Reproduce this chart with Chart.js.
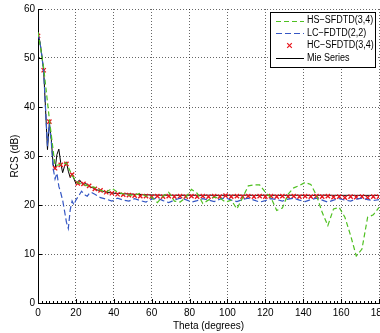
<!DOCTYPE html>
<html><head><meta charset="utf-8">
<script src="https://cdn.jsdelivr.net/npm/chart.js@4.4.1/dist/chart.umd.min.js"></script>
<style>html,body{margin:0;padding:0;overflow:hidden;background:#fff;width:380px;height:333px}
#wrap{width:400px;height:333px}</style></head>
<body><div id="wrap"><canvas id="c" width="400" height="333"></canvas></div>
<script>
// ---- data ----
const xTicks = [0,20,40,60,80,100,120,140,160,180];
const yTicks = [0,10,20,30,40,50,60];

const hsTheta = [0,3,6,9,12,15,18,21,24,27,30,33,36,39,42,45,48,51,54,57,60,63,66,69,72,75,78,81,84,87,90,93,96,99,102,105,108,111,114,117,120,123,126,129,132,135,138,141,144,147,150,153,156,159,162,165,168,171,174,177,180];
const hsRcs = [55.3,48.0,37.5,28.0,28.3,28.6,26.0,24.5,24.2,23.8,23.6,23.0,22.6,23.4,22.6,22.3,22.0,22.0,22.4,21.8,21.6,20.5,21.8,22.6,20.8,20.6,21.5,23.2,22.4,20.3,21.0,21.6,21.4,20.6,21.0,19.2,21.5,23.9,24.1,24.1,22.6,21.5,18.9,19.4,22.2,23.5,24.0,24.6,24.2,22.0,18.5,15.8,19.2,19.5,17.5,13.8,9.6,11.0,17.5,18.0,19.5];

const lcTheta = [0,1,2,3,4,5,6,7,8,9,10,11,12,13,14,15,16,17,18,19,20,21,22,23,24,25,26,27,28,29,30,33,36,39,42,45,48,51,54,57,60,63,66,69,72,75,78,81,84,87,90,93,96,99,102,105,108,111,114,117,120,123,126,129,132,135,138,141,144,147,150,153,156,159,162,165,168,171,174,177,180];
const lcRcs = [55.0,53.3,50.5,47.3,39.5,32.0,36.5,33.0,27.5,25.3,26.5,23.8,22.5,21.0,18.8,16.5,15.2,19.0,20.8,20.0,21.0,21.6,22.2,22.8,22.4,22.0,21.8,22.3,22.6,22.4,22.2,
  21.5,21.2,20.8,21.4,21.0,20.8,21.3,20.9,20.6,21.2,21.4,20.9,20.5,21.0,21.4,21.1,20.6,20.9,21.3,21.0,20.7,21.2,21.5,21.0,20.7,21.1,21.4,21.0,20.6,20.9,21.3,21.1,20.8,21.2,21.4,21.0,20.7,21.1,21.4,21.0,20.6,21.0,21.3,21.0,20.8,21.2,21.4,21.1,20.9,21.1];

const hcTheta = hsTheta;
const hcRcs = [54.5,47.5,37.0,27.5,28.2,28.4,26.2,24.4,24.3,23.9,23.3,23.0,22.6,22.4,22.2,22.1,22.0,21.9,21.8,21.8,21.7,21.8,21.7,21.8,21.7,21.8,21.7,21.8,21.7,21.8,21.7,21.8,21.7,21.9,21.7,21.8,21.7,21.8,21.7,21.8,21.7,21.8,21.7,21.8,21.7,21.8,21.7,21.8,21.7,21.8,21.7,21.8,21.6,21.7,21.5,21.7,21.6,21.7,21.5,21.7,21.7];

const mieTheta = [0,1,2,3,4,5,6,7,8,9,10,11,12,13,14,15,16,17,18,19,20,21,22,23,24,25,26,27,28,29,30,31,32,33,34,35,36,37,38,39,40,45,50,55,60,65,70,75,80,85,90,95,100,105,110,115,120,125,130,135,140,145,150,155,160,165,170,175,180];
const mieRcs = [54.7,53.4,50.6,47.3,39.5,31.3,36.8,33.5,28.2,27.3,30.3,31.4,28.6,26.6,27.9,28.8,26.9,25.6,26.4,25.3,24.4,24.8,25.1,24.5,24.1,24.4,24.2,23.8,23.6,23.5,23.3,23.1,23.0,22.9,22.8,22.7,22.6,22.55,22.5,22.45,22.4,22.3,22.2,22.1,22.05,22.0,22.0,21.98,22.0,21.98,22.0,21.97,22.0,21.98,22.0,21.97,22.0,21.98,21.97,22.0,21.98,21.97,22.0,21.98,21.97,21.98,21.96,21.97,21.96];

const seriesNames = ['HS\u2212SFDTD(3,4)','LC\u2212FDTD(2,2)','HC\u2212SFDTD(3,4)','Mie Series'];
const xTitle = 'Theta (degrees)';
const yTitle = 'RCS (dB)';

const FONT = "'Liberation Sans',Arial,sans-serif";
const pts = (t,v) => t.map((x,i)=>({x:x,y:v[i]}));

const GREEN = '#4fc021', BLUE = '#3557c4', RED = '#e8141c';

const axisDeco = {
  id:'axisDeco',
  afterDraw(chart){
    const {ctx, chartArea:a, scales:{x,y}} = chart;
    ctx.save();
    ctx.strokeStyle='#000'; ctx.lineWidth=1;
    ctx.beginPath();
    for(let t=0;t<=180;t+=2){
      const px=Math.round(x.getPixelForValue(t))+0.5;
      const len = (t%20===0)?4:2;
      ctx.moveTo(px,a.bottom); ctx.lineTo(px,a.bottom-len);
    }
    for(const v of yTicks){
      const py=Math.round(y.getPixelForValue(v))+0.5;
      ctx.moveTo(a.left,py); ctx.lineTo(a.left+4,py);
    }
    ctx.stroke();
    // legend box
    const bx=270.5, by=12.5, bw=105, bh=55;
    ctx.fillStyle='#fff'; ctx.fillRect(bx,by,bw,bh);
    ctx.strokeStyle='#000'; ctx.lineWidth=1; ctx.strokeRect(bx,by,bw,bh);
    const rows=[20.5,33,45.5,58];
    const ds=chart.data.datasets;
    rows.forEach((ry,i)=>{
      const d=ds[i];
      if(i===2){
        ctx.strokeStyle=d.borderColor; ctx.lineWidth=1.2;
        const cx=289.5, r=2.3;
        ctx.beginPath(); ctx.moveTo(cx-r,ry-r); ctx.lineTo(cx+r,ry+r); ctx.moveTo(cx-r,ry+r); ctx.lineTo(cx+r,ry-r); ctx.stroke();
      } else {
        ctx.strokeStyle=d.borderColor; ctx.lineWidth=d.borderWidth;
        ctx.setLineDash(d.borderDash||[]);
        ctx.beginPath(); ctx.moveTo(276,Math.round(ry)+0.5); ctx.lineTo(304,Math.round(ry)+0.5); ctx.stroke();
        ctx.setLineDash([]);
      }
      ctx.save();
      ctx.translate(307,ry); ctx.scale(0.9,1);
      ctx.font="10px "+FONT; ctx.textBaseline='middle'; ctx.textAlign='left';
      ctx.fillStyle='#000';
      ctx.fillText(seriesNames[i],0,0);
      ctx.restore();
    });
    ctx.restore();
  }
};

new Chart(document.getElementById('c'),{
  type:'line',
  data:{datasets:[
    {label:seriesNames[0],data:pts(hsTheta,hsRcs),borderColor:GREEN,borderWidth:1.2,borderDash:[5,3],pointRadius:0,fill:false,tension:0},
    {label:seriesNames[1],data:pts(lcTheta,lcRcs),borderColor:BLUE,borderWidth:1.2,borderDash:[6,3],pointRadius:0,fill:false,tension:0},
    {label:seriesNames[2],data:pts(hcTheta,hcRcs),borderColor:RED,backgroundColor:RED,showLine:false,pointStyle:'crossRot',pointRadius:3,pointBorderWidth:1.3,borderWidth:1.3},
    {label:seriesNames[3],data:pts(mieTheta,mieRcs),borderColor:'#000',borderWidth:1,pointRadius:0,fill:false,tension:0}
  ]},
  options:{
    responsive:false, animation:false, events:[],
    layout:{padding:{top:7,right:21,left:0,bottom:0}},
    plugins:{legend:{display:false},tooltip:{enabled:false}},
    scales:{
      x:{type:'linear',min:0,max:180,
        afterBuildTicks(s){s.ticks=xTicks.map(v=>({value:v}));},
        ticks:{padding:4,color:'#000',font:{family:FONT,size:10}},
        grid:{color:'rgba(0,0,0,0.6)',lineWidth:1,drawTicks:false},
        border:{display:true,color:'#000',width:1,dash:[1,2]},
        title:{display:true,text:xTitle,color:'#000',font:{family:FONT,size:10},padding:{top:0,bottom:1}},
        afterFit(s){s.height=30;}
      },
      y:{type:'linear',min:0,max:60,
        afterBuildTicks(s){s.ticks=yTicks.map(v=>({value:v}));},
        ticks:{padding:3,color:'#000',font:{family:FONT,size:10}},
        grid:{color:'rgba(0,0,0,0.6)',lineWidth:1,drawTicks:false},
        border:{display:true,color:'#000',width:1,dash:[1,2]},
        title:{display:true,text:yTitle,color:'#000',font:{family:FONT,size:10},padding:{top:9,bottom:0}},
        afterFit(s){s.width=38;}
      }
    }
  },
  plugins:[axisDeco]
});
</script></body></html>
